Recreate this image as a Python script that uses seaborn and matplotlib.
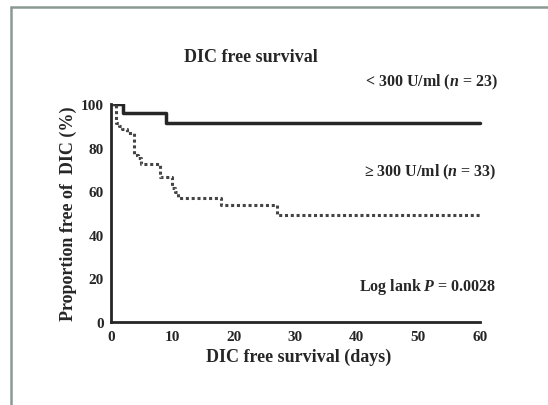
import matplotlib
matplotlib.use("Agg")
import matplotlib.pyplot as plt
from matplotlib.lines import Line2D
import seaborn as sns
import pandas as pd

# Kaplan-Meier style step data (days, % free of DIC)
low_days = [0, 2, 9, 60]
low_surv = [100, 95.7, 91.3, 91.3]

high_days = [0, 0.8, 1.3, 1.8, 2.7, 3.8, 4.4, 5.0, 8.0, 10.0, 10.5, 11.0, 18.0, 27.0, 60]
high_surv = [100, 91.5, 90.0, 88.5, 86.5, 76.5, 75.0, 72.5, 66.5, 61.5, 59.5, 57.0, 53.5, 49.0, 49.0]

x_ticks = [0, 10, 20, 30, 40, 50, 60]
y_ticks = [0, 20, 40, 60, 80, 100]

sns.set_theme(style="white")
plt.rcParams["font.family"] = ["Liberation Serif", "DejaVu Serif"]
plt.rcParams["font.weight"] = "bold"
plt.rcParams["mathtext.fontset"] = "custom"
plt.rcParams["mathtext.it"] = "Liberation Serif:italic:bold"
plt.rcParams["mathtext.rm"] = "Liberation Serif:bold"

ink = "#262626"
fig = plt.figure(figsize=(5.48, 4.06), dpi=100)
fig.patch.set_facecolor("white")
ax = fig.add_axes([0.202, 0.2044, 0.685, 0.537])

low = pd.DataFrame({"days": low_days, "surv": low_surv})
high = pd.DataFrame({"days": high_days, "surv": high_surv})

sns.lineplot(data=low, x="days", y="surv", ax=ax, color=ink, lw=2.5,
             drawstyle="steps-post", estimator=None, sort=False)
sns.lineplot(data=high, x="days", y="surv", ax=ax, color="#444444", lw=2.2,
             drawstyle="steps-post", estimator=None, sort=False,
             linestyle=(0, (1.0, 0.9)))

ax.set_xlim(0, 61)
ax.set_ylim(0, 100)
ax.set_xticks(x_ticks)
ax.set_yticks(y_ticks)
ax.set_xticklabels([str(t) for t in x_ticks], fontsize=11, fontweight="bold", color=ink)
ax.set_yticklabels([str(t) for t in y_ticks], fontsize=11, fontweight="bold", color=ink)
ax.tick_params(axis="both", direction="out", length=3, width=1.5, color=ink, pad=2)
ax.tick_params(axis="x", direction="inout", length=4, pad=4)

for side in ["top", "right"]:
    ax.spines[side].set_visible(False)
for side in ["left", "bottom"]:
    ax.spines[side].set_color(ink)
    ax.spines[side].set_linewidth(2.0)
ax.spines["bottom"].set_bounds(0, 60)

ax.set_xlabel("DIC free survival (days)", fontsize=13, fontweight="bold", color=ink, labelpad=3)
ax.set_ylabel("Proportion free of  DIC (%)", fontsize=13, fontweight="bold", color=ink, labelpad=3)

fig.text(251 / 548, 1 - 58 / 406, "DIC free survival", ha="center", va="center",
         fontsize=13, fontweight="bold", color=ink)
fig.text(498 / 548, 1 - 82 / 406, r"< 300 U/ml ($n$ = 23)", ha="right", va="center",
         fontsize=11.5, fontweight="bold", color=ink)
fig.text(497 / 548, 1 - 172 / 406, r"≥ 300 U/ml ($n$ = 33)", ha="right", va="center",
         fontsize=11.5, fontweight="bold", color=ink)
fig.text(496 / 548, 1 - 287 / 406, r"Log lank $P$ = 0.0028", ha="right", va="center",
         fontsize=11.5, fontweight="bold", color=ink)

# page frame along the top and left edges
frame = "#8a9a92"
fig.add_artist(Line2D([11 / 548, 1.0], [1 - 8 / 406, 1 - 8 / 406], color=frame, lw=1.8,
                      transform=fig.transFigure))
fig.add_artist(Line2D([11 / 548, 11 / 548], [0.0, 1 - 8 / 406], color=frame, lw=1.8,
                      transform=fig.transFigure))

fig.savefig("out.png", dpi=100)
